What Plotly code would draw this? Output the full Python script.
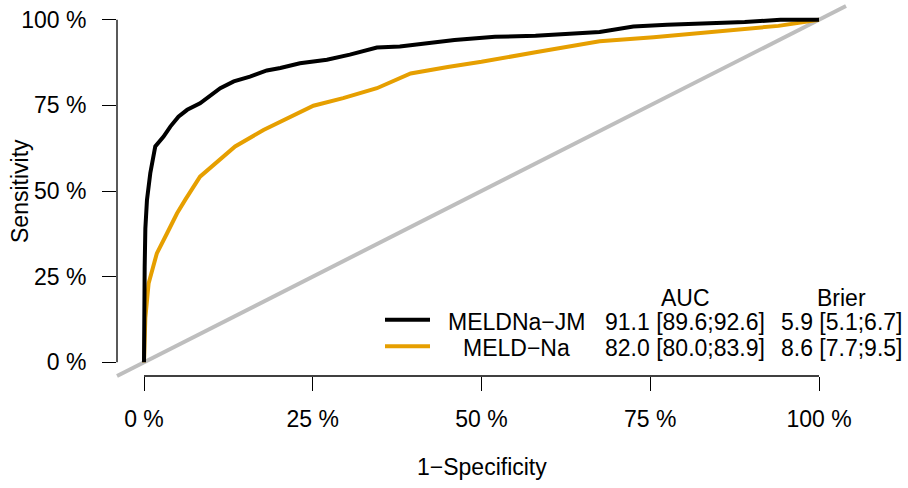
import plotly.graph_objects as go

# ---------------- data ----------------
fpr_meldna_jm = [0.0, 0.0, 0.001, 0.002, 0.0044, 0.0093, 0.0167, 0.029, 0.039, 0.051,
                 0.064, 0.083, 0.093, 0.113, 0.133, 0.157, 0.182, 0.202, 0.231, 0.271,
                 0.305, 0.345, 0.379, 0.41, 0.46, 0.52, 0.58, 0.675, 0.725, 0.775,
                 0.825, 0.89, 0.943, 1.0]
sens_meldna_jm = [0.0, 0.15, 0.28, 0.39, 0.474, 0.552, 0.63, 0.659, 0.688, 0.717,
                  0.737, 0.756, 0.771, 0.80, 0.82, 0.834, 0.852, 0.859, 0.873, 0.883,
                  0.898, 0.919, 0.922, 0.93, 0.941, 0.95, 0.953, 0.964, 0.98, 0.985,
                  0.988, 0.993, 1.0, 1.0]

fpr_meld_na = [0.0, 0.002, 0.0068, 0.019, 0.034, 0.049, 0.061, 0.083, 0.135, 0.177,
               0.251, 0.295, 0.345, 0.395, 0.45, 0.5, 0.58, 0.675, 0.755, 0.825,
               0.89, 0.94, 1.0]
sens_meld_na = [0.0, 0.13, 0.23, 0.318, 0.376, 0.435, 0.474, 0.542, 0.63, 0.678,
                0.749, 0.771, 0.80, 0.843, 0.862, 0.877, 0.905, 0.937, 0.949, 0.961,
                0.972, 0.982, 1.0]

tick_vals = [0, 0.25, 0.5, 0.75, 1.0]
tick_text = ["0 %", "25 %", "50 %", "75 %", "100 %"]

model_names = ["MELDNa\u2212JM", "MELD\u2212Na"]
auc_text = ["91.1 [89.6;92.6]", "82.0 [80.0;83.9]"]
brier_text = ["5.9 [5.1;6.7]", "8.6 [7.7;9.5]"]
model_colors = ["#000000", "#E69F00"]

# ---------------- layout geometry ----------------
W, H = 908, 488
ML, MR, MT, MB = 117, 62, 6, 112
PW, PH = W - ML - MR, H - MT - MB
FONT = "Liberation Sans, Arial, Helvetica, sans-serif"
FS = 23


def px_x(x):
    return (x - ML) / PW


def px_y(y):
    return (H - MB - y) / PH


fig = go.Figure()

fig.add_trace(go.Scatter(x=fpr_meld_na, y=sens_meld_na, mode="lines",
                         line=dict(color=model_colors[1], width=4), showlegend=False,
                         hoverinfo="skip"))
fig.add_trace(go.Scatter(x=fpr_meldna_jm, y=sens_meldna_jm, mode="lines",
                         line=dict(color=model_colors[0], width=4), showlegend=False,
                         hoverinfo="skip"))

shapes = []
# diagonal reference line across the whole plotting region
shapes.append(dict(type="line", xref="paper", yref="paper", x0=0, y0=0, x1=1, y1=1,
                   line=dict(color="#BEBEBE", width=4), layer="below"))
# axis lines spanning first to last tick
shapes.append(dict(type="line", xref="x", yref="paper", x0=tick_vals[0], x1=tick_vals[-1],
                   y0=0, y1=0, line=dict(color="black", width=1.3)))
shapes.append(dict(type="line", xref="paper", yref="y", x0=0, x1=0,
                   y0=tick_vals[0], y1=tick_vals[-1], line=dict(color="black", width=1.3)))

# legend line samples
legend_rows_y = [321.5, 348]
for i, c in enumerate(model_colors):
    yy = px_y(legend_rows_y[i] - 1.8)
    shapes.append(dict(type="line", xref="paper", yref="paper",
                       x0=px_x(385), x1=px_x(430), y0=yy, y1=yy,
                       line=dict(color=c, width=4)))

annotations = []
font = dict(family=FONT, size=FS, color="black")
HEADER_Y = 297.5
# legend header
annotations.append(dict(text="AUC", xref="paper", yref="paper", x=px_x(685), y=px_y(HEADER_Y),
                        xanchor="center", yanchor="middle", showarrow=False, font=font))
annotations.append(dict(text="Brier", xref="paper", yref="paper", x=px_x(841.5), y=px_y(HEADER_Y),
                        xanchor="center", yanchor="middle", showarrow=False, font=font))
for i in range(len(model_names)):
    yy = px_y(legend_rows_y[i])
    annotations.append(dict(text=model_names[i], xref="paper", yref="paper", x=px_x(516.5), y=yy,
                            xanchor="center", yanchor="middle", showarrow=False, font=font))
    annotations.append(dict(text=auc_text[i], xref="paper", yref="paper", x=px_x(685), y=yy,
                            xanchor="center", yanchor="middle", showarrow=False, font=font))
    annotations.append(dict(text=brier_text[i], xref="paper", yref="paper", x=px_x(841.5), y=yy,
                            xanchor="center", yanchor="middle", showarrow=False, font=font))

# axis titles
annotations.append(dict(text="1\u2212Specificity", xref="x", yref="paper", x=0.5, y=px_y(467),
                        xanchor="center", yanchor="middle", showarrow=False, font=font))
annotations.append(dict(text="Sensitivity", xref="paper", yref="y", x=px_x(20), y=0.5,
                        xanchor="center", yanchor="middle", textangle=-90,
                        showarrow=False, font=font))

axis_common = dict(range=[-0.04, 1.04], showgrid=False, zeroline=False, showline=False,
                   tickmode="array", tickvals=tick_vals, ticktext=tick_text,
                   ticks="outside", ticklen=14, tickwidth=1.3, tickcolor="black",
                   tickfont=font, fixedrange=True)

fig.update_layout(
    width=W, height=H,
    margin=dict(l=ML, r=MR, t=MT, b=MB, pad=0),
    paper_bgcolor="white", plot_bgcolor="white",
    xaxis=dict(**axis_common, ticklabelstandoff=8),
    yaxis=dict(**axis_common, ticklabelstandoff=11),
    shapes=shapes, annotations=annotations,
    showlegend=False,
)

fig.write_html("out.html",
               config={"displayModeBar": False},
               post_script="document.body.style.margin='0';document.body.style.overflow='hidden';")
